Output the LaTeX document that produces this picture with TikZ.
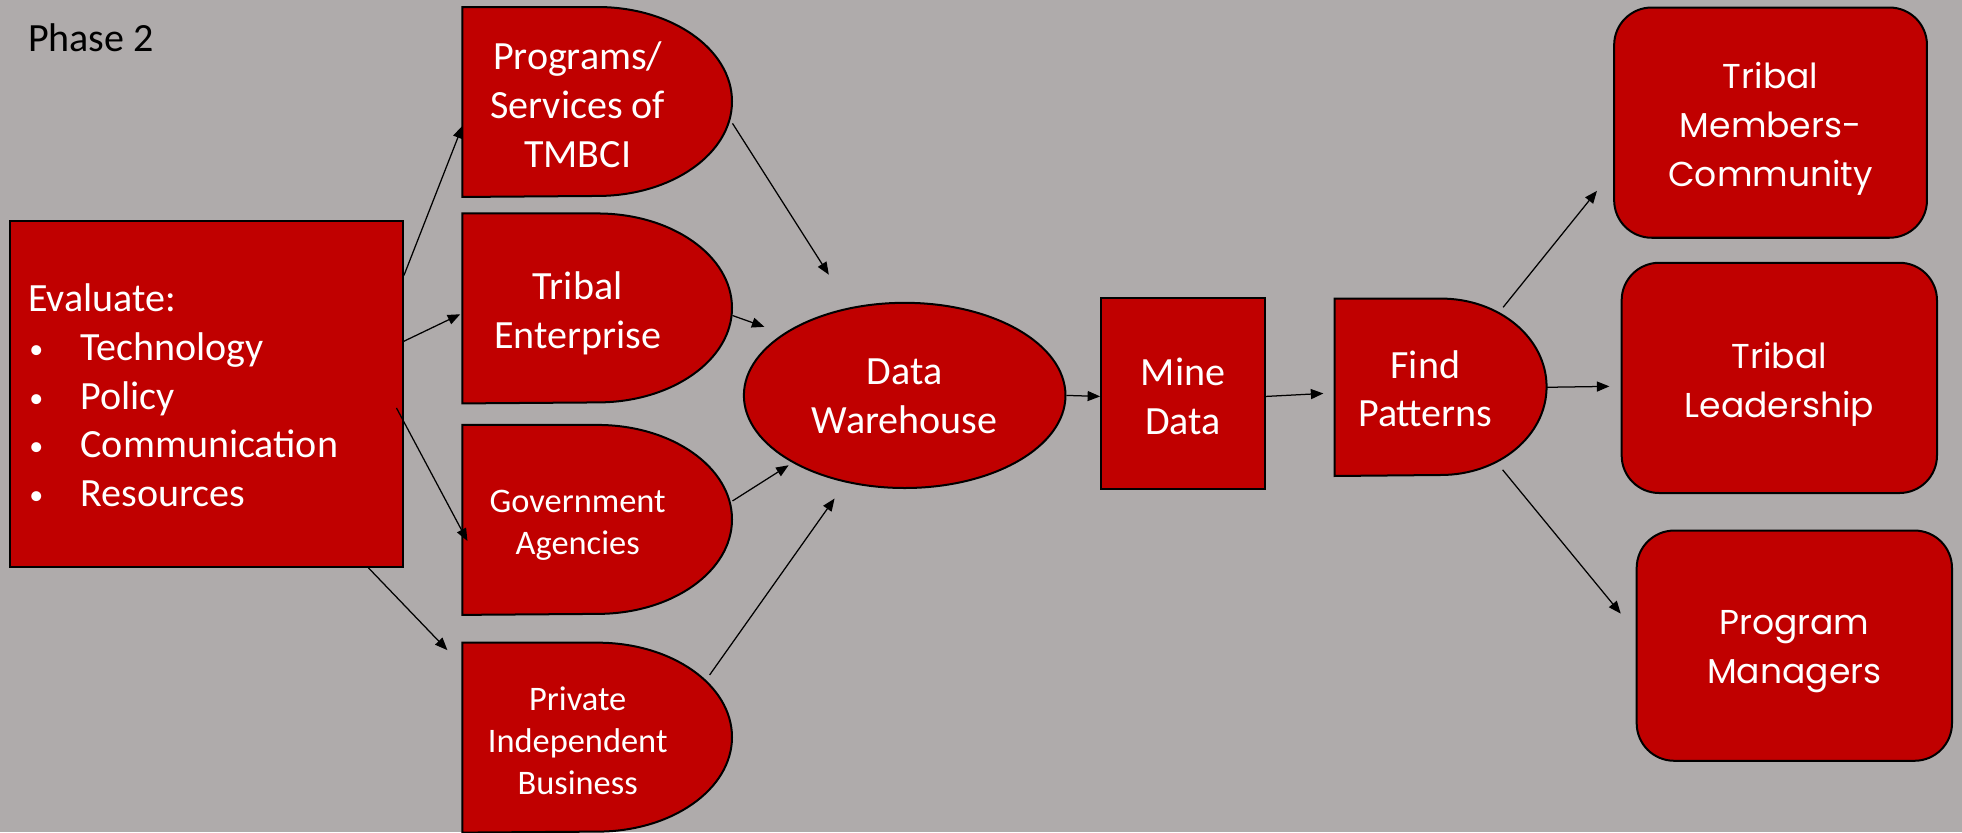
\documentclass[tikz,border=0pt]{standalone}
\usepackage{fontspec}
\usepackage{graphicx}
\setmainfont{Carlito}
\newfontfamily\gothic{Poppins}
\usetikzlibrary{arrows.meta,shapes.geometric,calc}
\definecolor{bg}{HTML}{AFABAB}
\definecolor{dred}{HTML}{C00000}
\newcommand\dshape[5]{%
  \node[rectangle,inner sep=0pt,minimum width=#4,minimum height=#5] (#1) at (#2,#3) {};
  \draw[shp] (#1.north west) -- (#1.north) arc[start angle=90,end angle=-90,x radius=#4/2,y radius=#5/2] -- (#1.south west) -- cycle;
}
\newcommand\bul{\makebox[21pt][l]{\hspace{0.5pt}\raisebox{0.8pt}{\scalebox{0.7}{\textbullet}}}}
\begin{document}
\begin{tikzpicture}[x=0.5pt,y=-0.5pt,
  shp/.style={fill=dred,draw=black,line width=0.8pt},
  lbl/.style={text=white,align=center,inner sep=0pt},
  big/.style={font=\fontsize{16}{19.5}\selectfont},
  small/.style={font=\fontsize{13.75}{16.75}\selectfont},
  goth/.style={font=\gothic\fontsize{13.8}{19.5}\selectfont,yshift=-2.5pt},
  rbox/.style={shp,rectangle,rounded corners=15pt,minimum width=126pt,minimum height=92pt,inner sep=0pt},
  arr/.style={-{Triangle[length=5pt,width=4pt]},line width=0.5pt,black},
]
\fill[bg] (0,0) rectangle (1568,665);
\useasboundingbox (0,0) rectangle (1568,665);

\node[anchor=west,big,inner sep=0pt] (ph) at (22,30) {Phase 2};

% Evaluate box
\node[shp,rectangle,minimum width=157pt,minimum height=138pt,inner sep=0pt] (eval) at (165,315) {};
\node[lbl,big,anchor=west,align=left] (evalt) at (22,316)
  {Evaluate:\\
   \bul Technology\\
   \bul Policy\\
   \bul Communication\\
   \bul Resources};

% D shapes
\dshape{prog}{477.5}{81.5}{107.5pt}{75.5pt}
\dshape{tent}{477.5}{246.5}{107.5pt}{75.5pt}
\dshape{gov}{477.5}{415.5}{107.5pt}{75.5pt}
\dshape{priv}{477.5}{589.5}{107.5pt}{75.5pt}
\dshape{find}{1151.5}{309.5}{84.5pt}{70.5pt}

\node[lbl,big,yshift=-1pt] (progt) at ($(prog.west)!0.4267!(prog.east)$) {Programs/\\Services of\\TMBCI};
\node[lbl,big,yshift=-1.8pt] (tentt) at ($(tent.west)!0.4267!(tent.east)$) {Tribal\\Enterprise};
\node[lbl,small,yshift=-2.3pt] (govt) at ($(gov.west)!0.4267!(gov.east)$) {Government\\Agencies};
\node[lbl,small,yshift=-1.2pt] (privt) at ($(priv.west)!0.4267!(priv.east)$) {Private\\Independent\\Business};
\node[lbl,big,yshift=-0.6pt] (findt) at ($(find.west)!0.4267!(find.east)$) {Find\\Patterns};

% Data warehouse
\node[shp,ellipse,minimum width=128.5pt,minimum height=74pt,inner sep=0pt] (dw) at (723,316) {};
\node[lbl,big,yshift=-0.5pt] (dwt) at (dw.center) {Data\\Warehouse};

% Mine data
\node[shp,rectangle,minimum width=65.5pt,minimum height=76.5pt,inner sep=0pt] (mine) at (945.5,314.5) {};
\node[lbl,big,yshift=-1pt] (minet) at (mine.center) {Mine\\Data};

% Right boxes
\node[rbox,minimum width=125pt] (tmc) at (1415,98) {};
\node[lbl,goth] (tmct) at (tmc.center) {Tribal\\Members-\\Community};
\node[rbox] (tl) at (1422,302) {};
\node[lbl,goth] (tlt) at (tl.center) {Tribal\\Leadership};
\node[rbox] (pm) at (1434,516) {};
\node[lbl,goth] (pmt) at (pm.center) {Program\\Managers};

% Arrows
\draw[arr] (eval.31.5) -- (prog.190);
\draw[arr,shorten >=1pt] (eval.15.3) -- (tent.182);
\draw[arr,shorten <=-6.3pt,shorten >=-4.2pt] (eval.-8.4) -- (gov.185.9);
\draw[arr,shorten >=8.7pt] (eval.-47.3) -- (priv.152.9);
\draw[arr,shorten >=15.5pt] (prog.-9.3) -- (dw.122.3);
\draw[arr,shorten >=8pt] (tent.-3) -- (dw.153.7);
\draw[arr,shorten >=1.8pt] (gov.8.5) -- (dw.211.5);
\draw[arr,shorten <=-15.8pt,shorten >=7.8pt] (priv.north east) -- (dw.236.4);
\draw[arr] (dw.0) -- (mine.182.2);
\draw[arr,shorten >=4.5pt] (mine.-2.2) -- (find.183.7);
\draw[arr,shorten <=-4.5pt,shorten >=10.3pt] (find.52.4) -- (tmc.197);
\draw[arr,shorten >=4.5pt] (find.east) -- (tl.183.2);
\draw[arr,shorten <=-3.2pt,shorten >=9.4pt] (find.-53.3) -- (pm.175.2);
\end{tikzpicture}
\end{document}
